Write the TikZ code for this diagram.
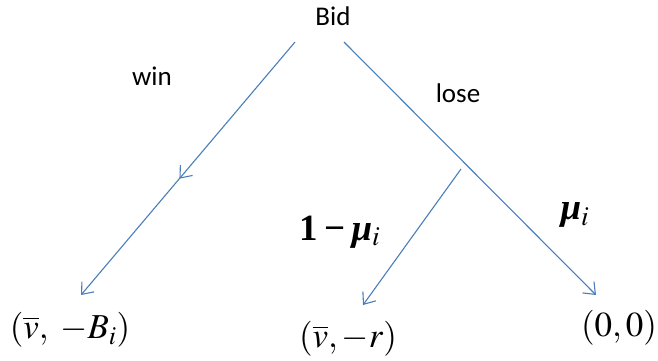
\documentclass[tikz,border=0pt]{standalone}
\usepackage{mathptmx}
\usepackage{amsmath}
\usepackage[no-math]{fontspec}
\setsansfont{Carlito}
\newfontfamily\timesfont{Liberation Serif}
\usetikzlibrary{arrows.meta, decorations.markings}
\definecolor{edgeblue}{RGB}{74,126,187}

\begin{document}
\begin{tikzpicture}[x=1pt, y=-1pt,
	branch/.style={draw=edgeblue, line width=1.1pt, -{Straight Barb[length=10pt, width=16pt]}},
	word/.style={font=\sffamily\fontsize{27}{30}\selectfont},
	payoff/.style={font=\fontsize{35}{40}\selectfont},
	prob/.style={font=\timesfont\fontsize{37}{42}\selectfont}]
	\useasboundingbox (0,0) rectangle (658,360);
	% root and branch ends
	\node[word] (bid) at (333,16) {Bid};
	\coordinate (BL) at (295,42);
	\coordinate (BR) at (344,42);
	\coordinate (C) at (461,169);
	\coordinate (LW) at (81,295);
	\coordinate (LM) at (363,305);
	\coordinate (LR) at (596,295);
	\draw[branch, postaction={decorate, decoration={markings,
		mark=at position 0.54 with {\arrow{Straight Barb[length=10pt, width=16pt]}}}}] (BL) -- (LW);
	\draw[branch] (BR) -- (LR);
	\draw[branch] (C) -- (LM);
	% labels
	\node[word] (win) at (152,76) {win};
	\node[word] (lose) at (458,93) {lose};
	\node[prob] (pm) at (340,232) {\textbf{1\,−\,\textit{μ}}$_{i}$};
	\node[prob] (pu) at (575,215) {\textbf{\textit{μ}}$_{i}$};
	\node[payoff] (ow) at (70,330) {$(\overline{v},\;-B_i)$};
	\node[payoff] (om) at (348,339) {$(\overline{v},-r)$};
	\node[payoff] (or) at (619,328) {$(0,0)$};
\end{tikzpicture}
\end{document}
